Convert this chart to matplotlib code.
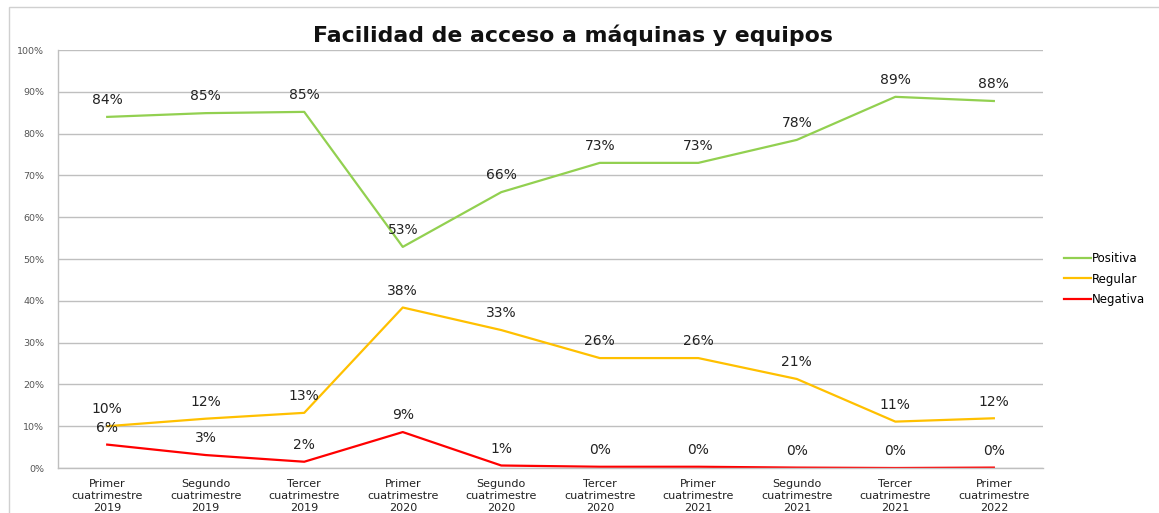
import matplotlib.pyplot as plt
from matplotlib.patches import Rectangle

# Datos del grafico (porcentajes)
periodos = ['Primer\ncuatrimestre\n2019', 'Segundo\ncuatrimestre\n2019', 'Tercer\ncuatrimestre\n2019',
            'Primer\ncuatrimestre\n2020', 'Segundo\ncuatrimestre\n2020', 'Tercer\ncuatrimestre\n2020',
            'Primer\ncuatrimestre\n2021', 'Segundo\ncuatrimestre\n2021', 'Tercer\ncuatrimestre\n2021',
            'Primer\ncuatrimestre\n2022']
positiva = [84.0, 84.9, 85.2, 52.9, 66.0, 73.0, 73.0, 78.5, 88.8, 87.8]
regular = [10.0, 11.8, 13.2, 38.4, 33.0, 26.3, 26.3, 21.3, 11.1, 11.9]
negativa = [5.6, 3.1, 1.5, 8.6, 0.6, 0.3, 0.3, 0.1, 0.0, 0.1]

series = [('Positiva', positiva, '#92D050'),
          ('Regular', regular, '#FFC000'),
          ('Negativa', negativa, '#FF0000')]

fig = plt.figure(figsize=(11.59, 5.13), dpi=100)
ax = fig.add_axes([0.05, 0.0877, 0.85, 0.8148])

x = list(range(len(periodos)))
for nombre, valores, color in series:
    ax.plot(x, valores, color=color, lw=1.6, label=nombre)
    for xi, v in zip(x, valores):
        ax.annotate('%d%%' % round(v), (xi, v), xytext=(0, 7), textcoords='offset points',
                    ha='center', va='bottom', fontsize=10, color='#222222')

ax.set_xlim(-0.5, len(periodos) - 0.5)
ax.set_ylim(0, 100)
ax.set_yticks(range(0, 101, 10))
ax.set_yticklabels(['%d%%' % v for v in range(0, 101, 10)], fontsize=6.8, color='#555555')
ax.set_xticks(x)
ax.set_xticklabels(periodos, fontsize=8, color='#222222', linespacing=1.25)
ax.tick_params(length=0)
ax.tick_params(axis='y', pad=10)
ax.tick_params(axis='x', pad=8)
ax.grid(axis='y', color='#bfbfbf', lw=1)
ax.set_axisbelow(True)
for s in ['top', 'right']:
    ax.spines[s].set_visible(False)
for s in ['left', 'bottom']:
    ax.spines[s].set_color('#bfbfbf')
    ax.spines[s].set_linewidth(1)

fig.text(0.494, 0.932, 'Facilidad de acceso a máquinas y equipos', ha='center', va='center',
         fontsize=15.8, fontweight='bold', color='#111111')

ax.legend(loc='center left', bbox_to_anchor=(1.015, 0.452), frameon=False, fontsize=8.5,
          handlelength=2.3, handletextpad=0.1, labelspacing=0.65, borderpad=0)

fig.patches.append(Rectangle((9 / 1159, -0.1), 1.2, 1.1 - 7 / 513, transform=fig.transFigure,
                             fill=False, edgecolor='#d0d0d0', lw=1))

fig.savefig('out.png', dpi=100)
